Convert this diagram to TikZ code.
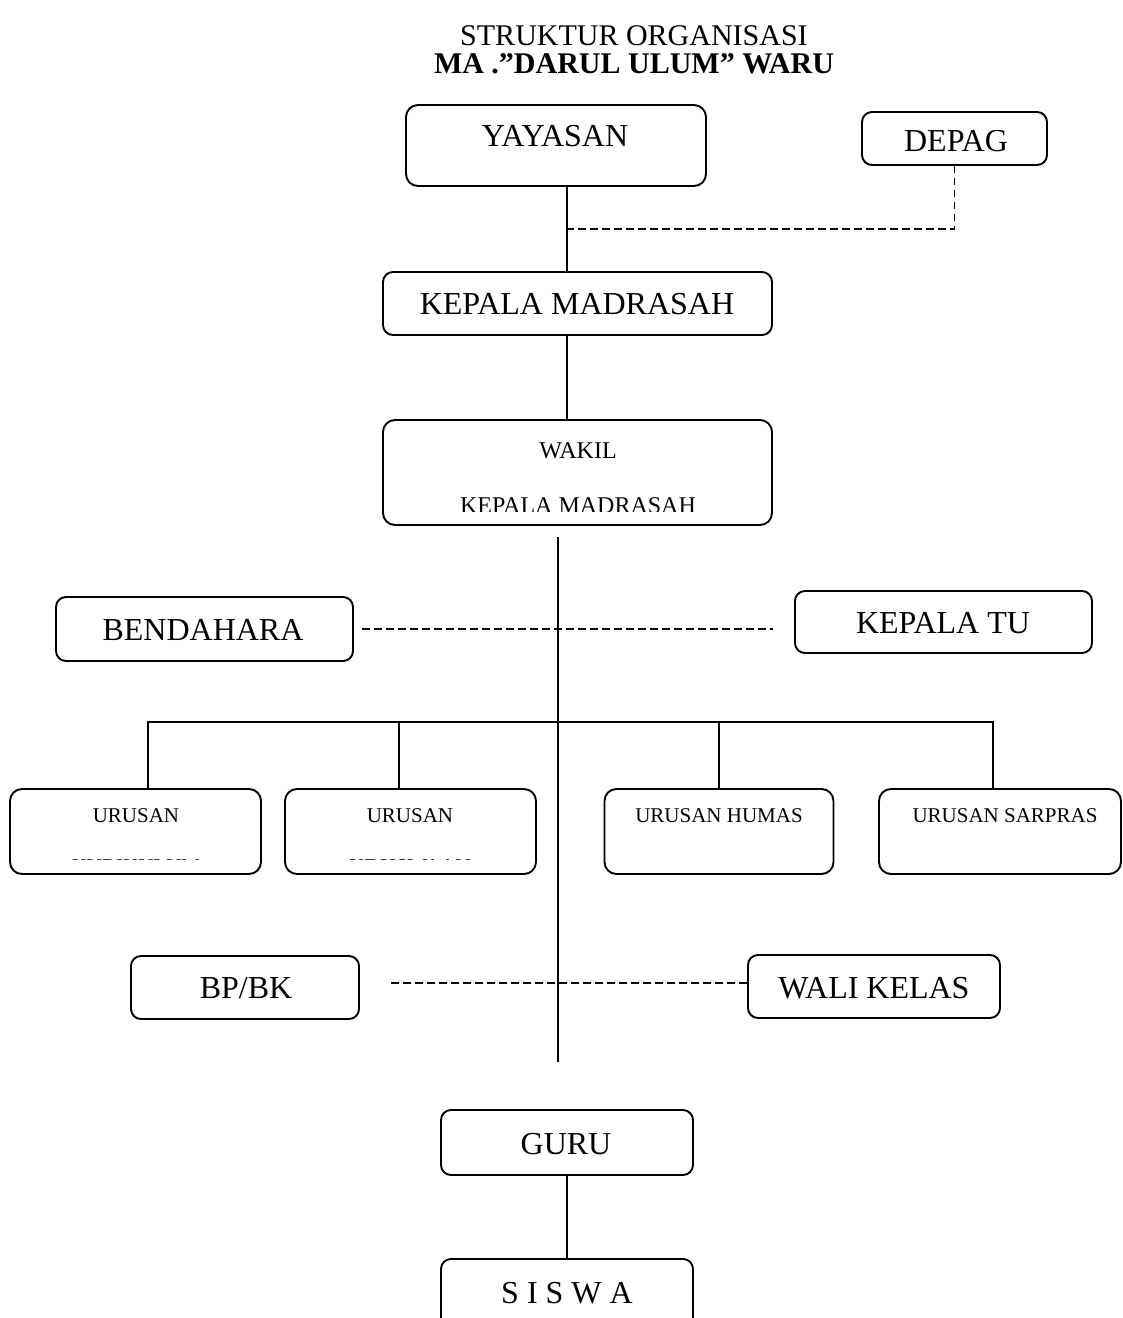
\documentclass[tikz,border=0pt]{standalone}
\usepackage{fontspec}
\setmainfont{Liberation Serif}
\usetikzlibrary{calc}
\begin{document}
\begin{tikzpicture}[x=1pt,y=-1pt,
  box/.style={draw, line width=1.9pt, rounded corners=12pt, inner sep=0pt},
  conn/.style={line width=1.5pt},
  dsh/.style={line width=1.6pt, dash pattern=on 7.5pt off 4.5pt},
  big/.style={inner sep=0pt, anchor=base, font=\fontsize{32}{38}\selectfont},
  mid/.style={inner sep=0pt, anchor=base, font=\fontsize{24}{29}\selectfont},
  sml/.style={inner sep=0pt, anchor=base, font=\fontsize{21}{25}\selectfont},
  ttl/.style={inner sep=0pt, anchor=base, font=\fontsize{30}{36}\selectfont}]
\useasboundingbox (0,0) rectangle (1123,1318);

% title
\node[ttl] (t1) at (634,45) {STRUKTUR ORGANISASI};
\node[ttl, font=\fontsize{30}{36}\selectfont\bfseries] (t2) at (634,73) {MA .”DARUL ULUM” WARU};

% boxes
\node[box, minimum width=300pt, minimum height=81pt] (yay) at (556,145.5) {};
\node[big] (yayT) at (555,146) {YAYASAN};
\node[box, minimum width=185pt, minimum height=53pt, rounded corners=10pt] (depag) at (954.5,138.5) {};
\node[big] (depagT) at (956,151) {DEPAG};
\node[box, minimum width=389pt, minimum height=63pt, rounded corners=10pt] (kep) at (577.5,303.5) {};
\node[big] (kepT) at (577,314) {KEPALA MADRASAH};
\node[box, minimum width=389pt, minimum height=105pt] (wak) at (577.5,472.5) {};
\node[mid] (wakT1) at (578,458) {WAKIL};
\begin{scope}
  \clip (0,0) rectangle (1123,511);
  \node[mid] (wakT2) at (578,513) {KEPALA MADRASAH};
\end{scope}

\node[box, minimum width=297pt, minimum height=64pt, rounded corners=10pt] (bend) at (204.5,629) {};
\node[big] (bendT) at (203,640) {BENDAHARA};
\node[box, minimum width=297pt, minimum height=62pt, rounded corners=10pt] (ktu) at (943.5,622) {};
\node[big] (ktuT) at (943,633) {KEPALA TU};

\node[box, minimum width=251pt, minimum height=85pt] (ur1) at (135.5,831.5) {};
\node[box, minimum width=251pt, minimum height=85pt] (ur2) at (410.5,831.5) {};
\node[box, minimum width=229pt, minimum height=85pt] (ur3) at (719,831.5) {};
\node[box, minimum width=242pt, minimum height=85pt] (ur4) at (1000,831.5) {};
\node[sml] (ur1T) at (136,822) {URUSAN};
\node[sml] (ur2T) at (410,822) {URUSAN};
\node[sml] (ur3T) at (719,822) {URUSAN HUMAS};
\node[sml] (ur4T) at (1005,822) {URUSAN SARPRAS};
\begin{scope}
  \clip (0,0) rectangle (1123,859);
  \node[sml] (ur1T2) at (136,873) {KURIKULUM};
  \node[sml] (ur2T2) at (410,873) {KESISWAAN};
\end{scope}

\node[box, minimum width=228pt, minimum height=63pt, rounded corners=10pt] (bp) at (245,987.5) {};
\node[big] (bpT) at (246,998) {BP/BK};
\node[box, minimum width=252pt, minimum height=63pt, rounded corners=10pt] (wali) at (874,986.5) {};
\node[big] (waliT) at (874,998) {WALI KELAS};

\node[box, minimum width=252pt, minimum height=65pt, rounded corners=10pt] (guru) at (567,1142.5) {};
\node[big] (guruT) at (566,1154) {GURU};
\node[box, minimum width=252pt, minimum height=90pt, rounded corners=10pt, anchor=north] (siswa) at (567,1258) {};
\node[big] (siswaT) at (567,1303) {S I S W A};

% connectors
\coordinate (spine) at (567,0);
\coordinate (j1) at (567,229);
\draw[conn] (spine |- yay.south) -- (spine |- kep.north);
\draw[dsh] (depag.south) |- (j1);
\draw[conn] (spine |- kep.south) -- (spine |- wak.north);

\coordinate (s1) at (558,537);
\coordinate (s2) at (558,1062);
\draw[conn] (s1) -- (s2);

\coordinate (d1s) at (362,629);
\coordinate (d1e) at (773,629);
\draw[dsh] (d1s) -- (d1e);

\coordinate (b1) at (148,722);
\coordinate (b2) at (399,722);
\coordinate (b3) at (719,722);
\coordinate (b4) at (993,722);
\draw[conn] (b1 |- ur1.north) -- (b1) -- (b4) -- (b4 |- ur4.north);
\draw[conn] (b2) -- (b2 |- ur2.north);
\draw[conn] (b3) -- (ur3.north);

\coordinate (d2s) at (391,983);
\draw[dsh] (d2s) -- (d2s -| wali.west);

\draw[conn] (spine |- guru.south) -- (spine |- siswa.north);
\end{tikzpicture}
\end{document}
